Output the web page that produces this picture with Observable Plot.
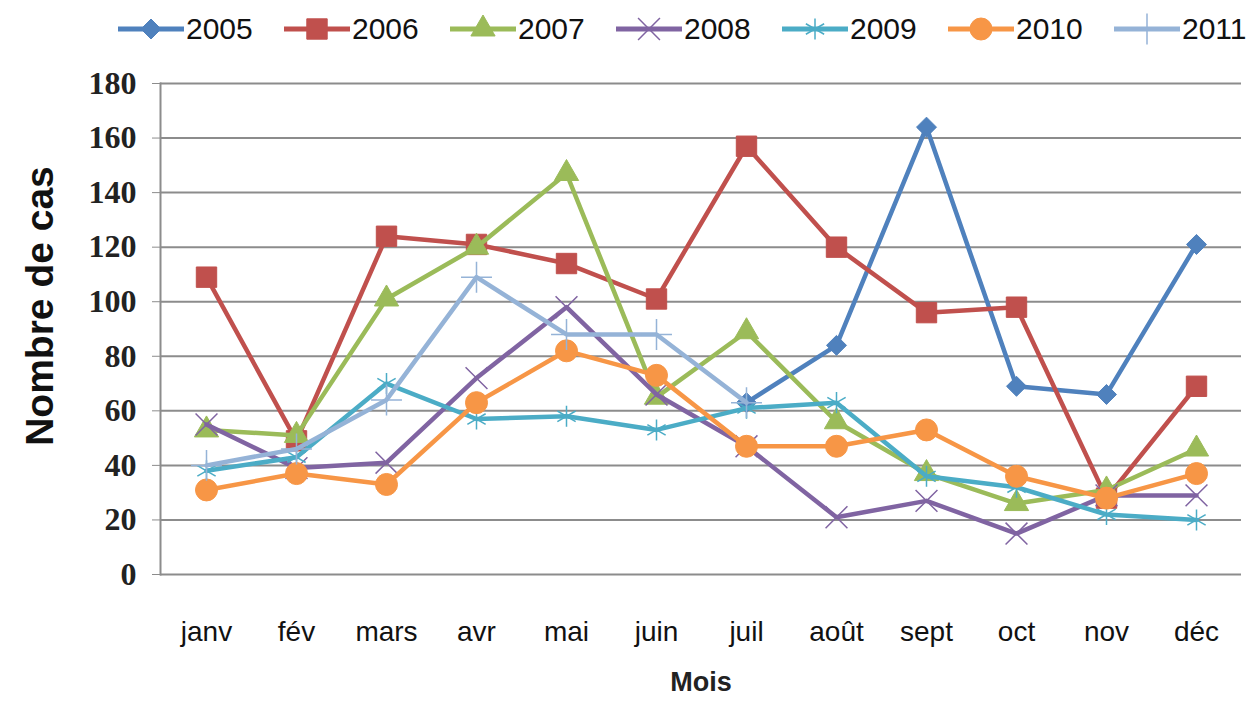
<!DOCTYPE html>
<html><head><meta charset="utf-8">
<script src="https://cdn.jsdelivr.net/npm/d3@7"></script>
<script src="https://cdn.jsdelivr.net/npm/@observablehq/plot@0.6"></script>
<style>
body{margin:0;background:#fff;}
#legend{position:relative;height:58px;width:1252px;}
.item{position:absolute;top:5px;height:48px;display:flex;align-items:center;font-family:"Liberation Sans",sans-serif;font-size:30px;color:#111;}
.item svg{margin-right:2px;}
#chart svg{display:block;}
</style></head><body>
<div id="legend"></div>
<div id="chart"></div>
<script>
const months = ["janv","fév","mars","avr","mai","juin","juil","août","sept","oct","nov","déc"];
const years = ["2005","2006","2007","2008","2009","2010","2011"];
const colors = ["#4F81BD","#C0504D","#9BBB59","#8064A2","#4BACC6","#F79646","#95B3D7"];
const symbols = ["diamond2","square","triangle","times","asterisk","circle","plus"];
const yTicks = [0,20,40,60,80,100,120,140,160,180];

const v2005 = [null,null,null,null,null,null,63,84,164,69,66,121];
const v2006 = [109,49,124,121,114,101,157,120,96,98,28,69];
const v2007 = [53,51,101,120,147,65,89,56,37,26,31,46];
const v2008 = [55,39,41,72,98,66,47,21,27,15,29,29];
const v2009 = [38,43,70,57,58,53,61,63,36,32,22,20];
const v2010 = [31,37,33,63,82,73,47,47,53,36,28,37];
const v2011 = [40,46,64,109,88,88,63,null,null,null,null,null];
const series = [v2005,v2006,v2007,v2008,v2009,v2010,v2011];

const rows = [];
series.forEach((vals, i) => vals.forEach((v, j) => {
  if (v != null) rows.push({year: years[i], month: months[j], value: v});
}));

const strokeOnly = new Set(["times","asterisk","plus"]);
const radius = {diamond2: 9, square: 11.5, triangle: 9, times: 10, asterisk: 10, circle: 11, plus: 10};

// legend
const legend = document.getElementById("legend");
const d3sym = {diamond2: d3.symbolDiamond2, square: d3.symbolSquare, triangle: d3.symbolTriangle,
  times: d3.symbolTimes, asterisk: d3.symbolAsterisk, circle: d3.symbolCircle, plus: d3.symbolPlus};
years.forEach((y, i) => {
  const div = document.createElement("div");
  div.className = "item";
  div.style.left = (118 + i * 166) + "px";
  const s = symbols[i];
  const so = strokeOnly.has(s);
  const path = d3.symbol(d3sym[s], Math.PI * radius[s] * radius[s])();
  div.innerHTML = `<svg width="66" height="40"><line x1="0" x2="66" y1="20" y2="20" stroke="${colors[i]}" stroke-width="5"/>
    <path transform="translate(33,20)" d="${path}" fill="${so ? "none" : colors[i]}" stroke="${colors[i]}" stroke-width="${so ? 1.5 : 1}"/></svg><span>${y}</span>`;
  legend.appendChild(div);
});

const marks = [
  Plot.gridY(yTicks, {stroke: "#8c8c8c", strokeOpacity: 1, strokeWidth: 2}),
  Plot.frame({anchor: "left", stroke: "#8c8c8c", strokeWidth: 2}),
  Plot.axisY(yTicks, {tickSize: 8, tickPadding: 16, stroke: "#8c8c8c", fill: "#222", fontSize: 32,
    fontFamily: "Liberation Serif, serif", fontWeight: "bold", label: null}),
  Plot.axisX({tickSize: 0, tickPadding: 47, fill: "#111", fontSize: 28,
    fontFamily: "Liberation Sans, sans-serif", label: null}),
  Plot.text(["Nombre de cas"], {frameAnchor: "left", dx: -120, dy: -23, rotate: -90, textAnchor: "middle",
    fontSize: 39, fontWeight: "bold", fontFamily: "Liberation Sans, sans-serif", fill: "#111"}),
  Plot.text(["Mois"], {frameAnchor: "bottom", dy: 116, fontSize: 27, fontWeight: "bold",
    fontFamily: "Liberation Sans, sans-serif", fill: "#222"})
];
years.forEach((y, i) => {
  const d = rows.filter(r => r.year === y);
  const s = symbols[i];
  const so = strokeOnly.has(s);
  marks.push(Plot.line(d, {x: "month", y: "value", stroke: colors[i], strokeWidth: 4.5, strokeLinejoin: "round"}));
  marks.push(Plot.dot(d, {x: "month", y: "value", symbol: () => s, r: radius[s],
    fill: so ? "none" : colors[i], stroke: colors[i], strokeWidth: so ? 1.5 : 1}));
});

const chart = Plot.plot({
  width: 1252, height: 651,
  marginTop: 25, marginBottom: 135, marginLeft: 160, marginRight: 11,
  x: {type: "point", domain: months, padding: 0.5},
  y: {domain: [0, 180]},
  symbol: {type: "identity"},
  style: {background: "#fff"},
  marks
});
document.getElementById("chart").appendChild(chart);
</script>
</body></html>
